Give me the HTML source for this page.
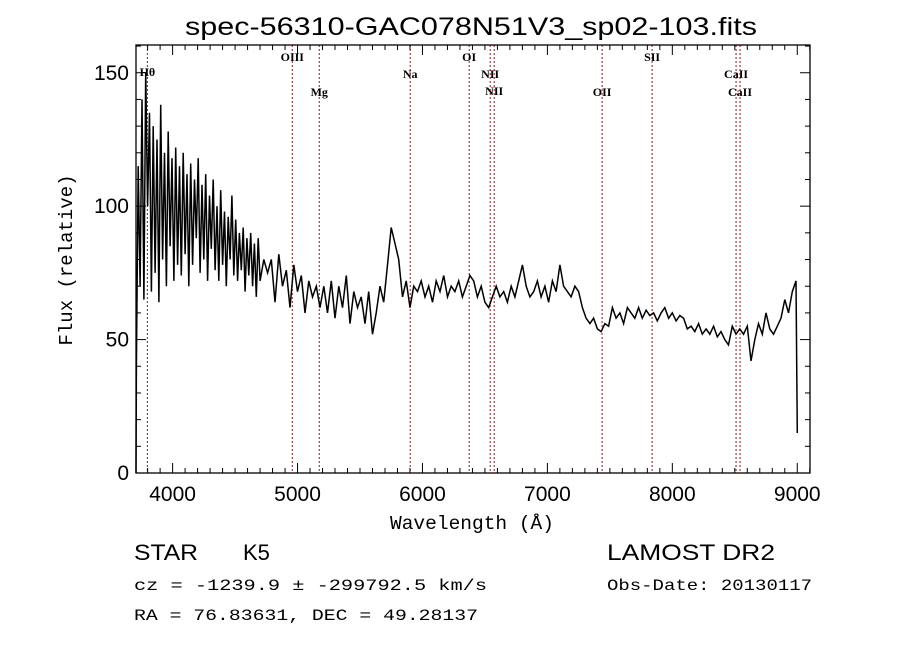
<!DOCTYPE html>
<html><head><meta charset="utf-8"><style>
body{margin:0;background:#fff;}
svg{display:block;font-family:"Liberation Sans",sans-serif;}
</style></head><body>
<svg id="c" width="900" height="649">
<rect width="900" height="649" fill="#fff"/>
<text x="185" y="35" font-size="25" textLength="572" lengthAdjust="spacingAndGlyphs">spec-56310-GAC078N51V3_sp02-103.fits</text>
<text x="390" y="529" font-size="19" textLength="164" lengthAdjust="spacingAndGlyphs" font-family="Liberation Mono, monospace">Wavelength (Å)</text>
<text transform="translate(72,260) rotate(-90)" font-size="19" text-anchor="middle" font-family="Liberation Mono, monospace">Flux (relative)</text>
<text x="134" y="560" font-size="22" textLength="64" lengthAdjust="spacingAndGlyphs">STAR</text>
<text x="243" y="560" font-size="22">K5</text>
<text x="607" y="560" font-size="22" textLength="168" lengthAdjust="spacingAndGlyphs">LAMOST DR2</text>
<text x="134" y="590" font-size="16" textLength="353" lengthAdjust="spacingAndGlyphs" font-family="Liberation Mono, monospace">cz = -1239.9 ± -299792.5 km/s</text>
<text x="607" y="590" font-size="16" textLength="205" lengthAdjust="spacingAndGlyphs" font-family="Liberation Mono, monospace">Obs-Date: 20130117</text>
<text x="134" y="620" font-size="16" textLength="344" lengthAdjust="spacingAndGlyphs" font-family="Liberation Mono, monospace">RA =  76.83631, DEC =  49.28137</text>
<g id="plot"></g>
</svg>
<script>
const waves=[3700,3710,3725,3740,3755,3770,3785,3800,3815,3830,3845,3860,3875,3890,3905,3920,3935,3950,3965,3980,3995,4010,4025,4040,4055,4070,4085,4100,4115,4130,4145,4160,4175,4190,4205,4220,4235,4250,4265,4280,4295,4310,4325,4340,4355,4370,4385,4400,4415,4430,4445,4460,4475,4490,4505,4520,4535,4550,4565,4580,4595,4610,4625,4640,4655,4670,4685,4700,4730,4760,4790,4820,4850,4880,4910,4940,4970,5000,5030,5060,5090,5120,5150,5180,5210,5240,5270,5300,5330,5360,5390,5420,5450,5480,5510,5540,5570,5600,5630,5660,5690,5720,5750,5780,5810,5840,5870,5900,5930,5960,5990,6020,6050,6080,6110,6140,6170,6200,6230,6260,6290,6320,6350,6380,6410,6440,6470,6500,6530,6560,6590,6620,6650,6680,6710,6740,6770,6800,6830,6860,6890,6920,6950,6980,7010,7040,7070,7100,7130,7160,7190,7220,7250,7280,7310,7340,7370,7400,7430,7460,7490,7520,7550,7580,7610,7640,7670,7700,7730,7760,7790,7820,7850,7880,7910,7940,7970,8000,8030,8060,8090,8120,8150,8180,8210,8240,8270,8300,8330,8360,8390,8420,8450,8480,8510,8540,8570,8600,8630,8660,8690,8720,8750,8780,8810,8840,8870,8900,8930,8960,8990,9000];
const fluxes=[0,40,115,70,140,65,150,100,135,68,130,75,125,64,138,80,120,70,128,85,118,72,122,78,115,74,120,82,112,70,116,78,110,88,118,75,108,80,112,72,104,84,110,76,100,72,106,78,98,70,96,80,104,74,95,72,90,76,92,68,88,74,90,70,86,66,88,72,80,75,80,64,82,70,76,62,78,68,74,60,72,66,70,62,70,60,72,58,70,62,74,56,68,62,66,56,68,52,60,70,64,78,92,86,80,66,72,62,70,68,72,66,70,64,72,68,74,66,70,68,72,66,70,74,72,66,70,64,62,66,70,66,68,64,70,66,72,78,70,66,68,72,66,70,64,72,68,78,70,68,66,70,68,62,58,56,58,54,53,56,55,62,58,60,56,62,60,58,62,58,61,59,60,57,60,62,58,60,57,59,58,54,55,53,56,52,54,52,55,51,53,50,48,55,52,54,52,55,42,50,56,52,60,54,52,55,58,65,60,68,72,15];
const lineWaves=[3798,4958,5174,5902,6374,6542,6574,7438,7838,8510,8542];
const lineNames=["Hθ","OIII","Mg","Na","OI","NII","NII","OII","SII","CaII","CaII"];
const lineLabelY=[76,61,96,78,61,78,95,96,61,78,96];
const xTicks=[4000,5000,6000,7000,8000,9000];
const yTicks=[0,50,100,150];

const L=136,R=810,T=45,B=473,XMIN=3707,XMAX=9102,YMIN=0,YMAX=160.4;
const sx=w=>L+(w-XMIN)/(XMAX-XMIN)*(R-L);
const sy=f=>B-(f-YMIN)/(YMAX-YMIN)*(B-T);
const NS="http://www.w3.org/2000/svg";
const g=document.getElementById('plot');
function mk(t,a){const e=document.createElementNS(NS,t);for(const k in a)e.setAttribute(k,a[k]);g.appendChild(e);return e;}

lineWaves.forEach((w,i)=>{
  const x=sx(w);
  const ln=mk('line',{x1:x,x2:x,y1:T,y2:B,stroke:'#8b1a1a','stroke-width':1,'stroke-dasharray':'2,2'});
  
  
  const tx=mk('text',{x:x,y:lineLabelY[i],'font-size':12,'text-anchor':'middle','font-family':'Liberation Serif, serif','font-weight':'bold'});
  tx.textContent=lineNames[i];
  
  
});

let d='';
waves.forEach((w,i)=>{d+=(i?'L':'M')+sx(Math.max(w,XMIN)).toFixed(1)+','+sy(fluxes[i]).toFixed(1);});
const p=mk('path',{d:d,fill:'none',stroke:'#000','stroke-width':1.5});



const fr=mk('rect',{x:L,y:T,width:R-L,height:B-T,fill:'none',stroke:'#000','stroke-width':1.3});



for(let w=3800;w<=9100;w+=100){
  const x=sx(w),maj=w%1000===0,len=maj?10:5;
  mk('line',{x1:x,x2:x,y1:B,y2:B-len,stroke:'#000'});
  mk('line',{x1:x,x2:x,y1:T,y2:T+len,stroke:'#000'});
}
xTicks.forEach(w=>{
  const t=mk('text',{x:sx(w),y:B+28,'font-size':21,'text-anchor':'middle'});
  t.textContent=w;
  
  
});
for(let f=10;f<=160;f+=10){
  const y=sy(f),maj=f%50===0,len=maj?10:5;
  mk('line',{x1:L,x2:L+len,y1:y,y2:y,stroke:'#000'});
  mk('line',{x1:R,x2:R-len,y1:y,y2:y,stroke:'#000'});
}
yTicks.forEach(f=>{
  const t=mk('text',{x:L-7,y:sy(f)+7,'font-size':21,'text-anchor':'end'});
  t.textContent=f;
  
  
});
</script>
</body></html>
